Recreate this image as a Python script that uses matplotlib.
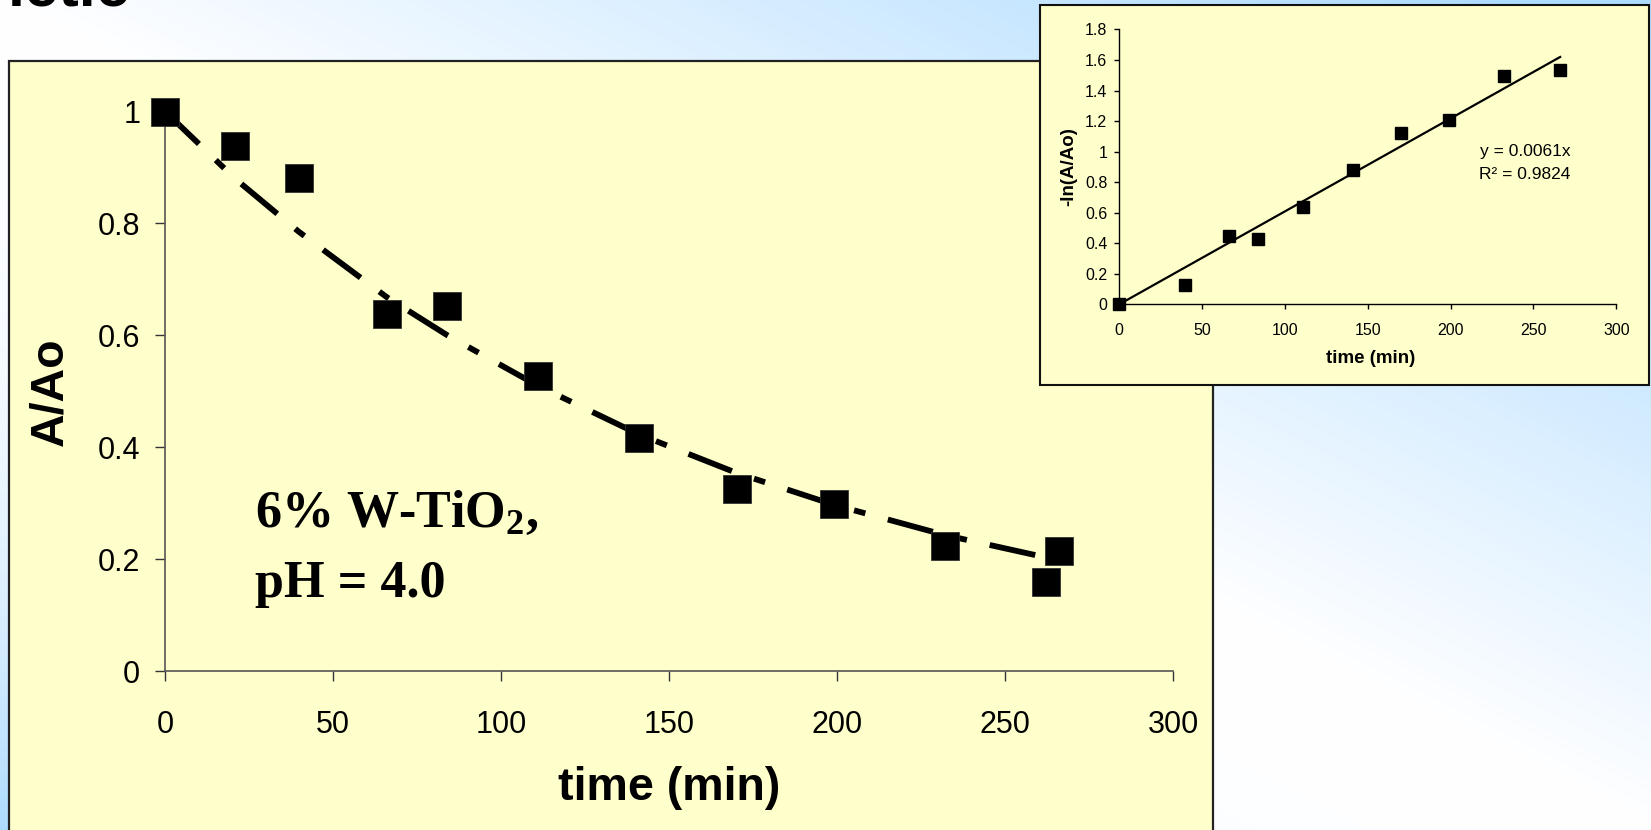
import matplotlib.pyplot as plt
import numpy as np
from matplotlib.patches import Rectangle

plt.rcParams["font.family"] = ["Liberation Sans", "DejaVu Sans"]
plt.rcParams["mathtext.default"] = "regular"

# main chart: A/Ao against time
time_min = [0, 20.8, 39.8, 66.0, 84.0, 110.9, 141.0, 170.1, 199.1, 232.1, 262.2, 266.1]
ratio = [1.0, 0.939, 0.881, 0.639, 0.652, 0.527, 0.416, 0.325, 0.299, 0.224, 0.159, 0.215]
# first-order fit drawn as the dashed curve
fit_time = [0, 20.8, 39.8, 66.0, 84.0, 110.9, 141.0, 170.1, 199.1, 232.1, 262.2]
fit_ratio = [1.0, 0.88, 0.785, 0.668, 0.60, 0.51, 0.423, 0.354, 0.297, 0.243, 0.203]
x_ticks = [0, 50, 100, 150, 200, 250, 300]
y_ticks = [0, 0.2, 0.4, 0.6, 0.8, 1.0]

# inset: -ln(A/Ao) against time with linear fit
inset_time = [0, 39.8, 66.0, 84.0, 110.9, 141.0, 170.1, 199.1, 232.1, 266.1]
neg_ln_ratio = [0, 0.125, 0.448, 0.428, 0.64, 0.877, 1.123, 1.208, 1.496, 1.535]
inset_fit_time = [0, 266.1]
inset_fit = [0, 1.62]
inset_y_ticks = [0, 0.2, 0.4, 0.6, 0.8, 1.0, 1.2, 1.4, 1.6, 1.8]

W, H = 1651, 830
fig = plt.figure(figsize=(W / 100, H / 100), dpi=100)


def fmt(v):
    return f"{v:g}"


# slide background with a soft blue gradient
bg = fig.add_axes([0, 0, 1, 1], zorder=0)
gx, gy = np.meshgrid(np.linspace(0, 1, 400), np.linspace(0, 1, 200))
s = gx - gy
w = np.where(s > 0, np.clip(1.1 * s, 0, 1), np.clip(-s, 0, 1) ** 2.5)
blue = np.array([0.68, 0.86, 1.0])
img = 1 - w[..., None] * (1 - blue)
bg.imshow(img, extent=[0, W, H, 0], aspect="auto", interpolation="bilinear")
bg.set_xlim(0, W)
bg.set_ylim(H, 0)
bg.axis("off")
# slide title, cropped at the top edge like the screenshot
bg.text(131, 6, "Kinetic", ha="right", va="baseline", fontsize=44, fontweight="bold")
bg.add_patch(Rectangle((8.5, 61.5), 1213 - 8.5, 800, fc="#FFFFCC", ec="#222222", lw=1.6))
bg.add_patch(Rectangle((1039.5, 5.5), 1649 - 1039.5, 385 - 5.5, fc="#FFFFCC", ec="#111111", lw=1.5))

# main plot
ax = fig.add_axes([165.3 / W, (H - 671) / H, (1173 - 165.3) / W, (671 - 111.6) / H], zorder=1)
ax.set_facecolor("none")
ax.plot(fit_time, fit_ratio, color="black", lw=4.2, linestyle=(0, (8, 4, 2, 4)), zorder=2)
ax.plot(time_min, ratio, "s", ms=20, color="black", mec="#333333", mew=0.6, zorder=3, clip_on=False)
ax.set_xlim(0, 300)
ax.set_ylim(0, 1)
ax.set_xticks(x_ticks)
ax.set_xticklabels([fmt(v) for v in x_ticks])
ax.set_yticks(y_ticks)
ax.set_yticklabels([fmt(v) for v in y_ticks])
for side in ["top", "right"]:
    ax.spines[side].set_visible(False)
for side in ["left", "bottom"]:
    ax.spines[side].set_color("#555555")
    ax.spines[side].set_linewidth(1.2)
ax.tick_params(axis="x", direction="out", length=7, width=1, color="#333333", pad=21, labelsize=22)
ax.tick_params(axis="y", direction="out", length=7, width=1, color="#333333", pad=11, labelsize=22)
ax.set_xlabel("time (min)", fontsize=33.5, fontweight="bold")
ax.set_ylabel("A/Ao", fontsize=33.5, fontweight="bold")
ax.xaxis.set_label_coords(0.5, -0.209)
ax.xaxis.label.set_verticalalignment("center")
ax.yaxis.set_label_coords(-0.114, 0.5)
ax.yaxis.label.set_verticalalignment("center")
serif = ["Liberation Serif", "DejaVu Serif"]
ax.text(26.7, 0.257, "6% W-TiO$_2$,", fontsize=37.5, fontweight="bold", family=serif, va="baseline")
ax.text(26.7, 0.132, "pH = 4.0", fontsize=37.5, fontweight="bold", family=serif, va="baseline")

# inset plot
ax2 = fig.add_axes([1119.3 / W, (H - 304.3) / H, (1616.3 - 1119.3) / W, (304.3 - 29.5) / H], zorder=2)
ax2.set_facecolor("none")
ax2.plot(inset_fit_time, inset_fit, color="black", lw=1.6, zorder=2)
ax2.plot(inset_time, neg_ln_ratio, "s", ms=8.5, color="black", zorder=3, clip_on=False)
ax2.set_xlim(0, 300)
ax2.set_ylim(0, 1.8)
ax2.set_xticks(x_ticks)
ax2.set_xticklabels([fmt(v) for v in x_ticks])
ax2.set_yticks(inset_y_ticks)
ax2.set_yticklabels([fmt(v) for v in inset_y_ticks])
for side in ["top", "right"]:
    ax2.spines[side].set_visible(False)
for side in ["left", "bottom"]:
    ax2.spines[side].set_color("black")
    ax2.spines[side].set_linewidth(1.0)
ax2.tick_params(axis="x", direction="out", length=3.6, width=1, pad=10, labelsize=11.5)
ax2.tick_params(axis="y", direction="out", length=3.6, width=1, pad=5, labelsize=11.5)
ax2.set_xlabel("time (min)", fontsize=13.5, fontweight="bold")
ax2.set_ylabel("-ln(A/Ao)", fontsize=13.5, fontweight="bold")
ax2.xaxis.set_label_coords(0.506, -0.199)
ax2.xaxis.label.set_verticalalignment("center")
ax2.yaxis.set_label_coords(-0.101, 0.5)
ax2.yaxis.label.set_verticalalignment("center")
ax2.text(244.9, 1.004, "y = 0.0061x", fontsize=12.5, ha="center", va="center")
ax2.text(244.9, 0.847, "R² = 0.9824", fontsize=12.5, ha="center", va="center")

fig.savefig("out.png", dpi=100)
